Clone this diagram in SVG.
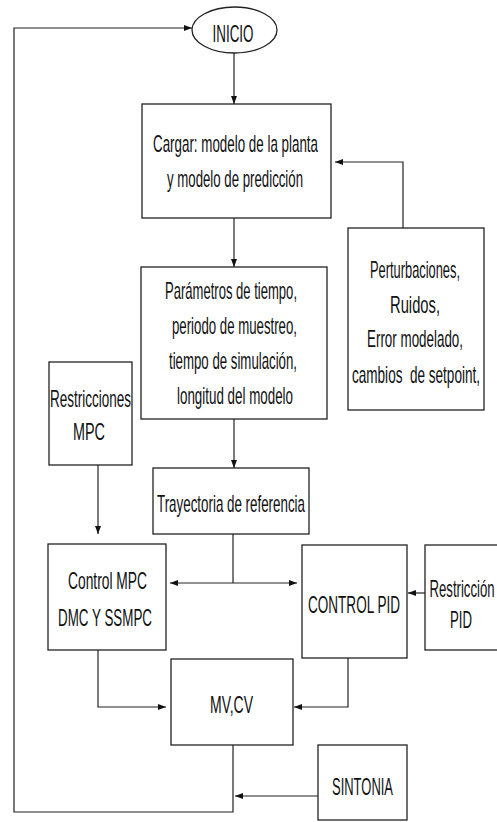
<svg xmlns="http://www.w3.org/2000/svg" width="497" height="822" viewBox="0 0 497 822">
<style>
.box{fill:#fff;stroke:#222;stroke-width:1.3}
.t{font-family:"Liberation Sans",Arial,sans-serif;font-size:23px;fill:#111;text-anchor:middle}
.c{fill:none;stroke:#222;stroke-width:1.2}
</style>
<defs>
<marker id="ah" viewBox="0 0 8 8" refX="8" refY="4" markerWidth="8" markerHeight="8" markerUnits="userSpaceOnUse" orient="auto-start-reverse">
<path d="M0,1 L8,4 L0,7 Z" fill="#111"/>
</marker>
</defs>
<rect width="497" height="822" fill="#fff"/>
<g id="connectors">
<line class="c" x1="234" y1="53" x2="234" y2="104" marker-end="url(#ah)"/>
<line class="c" x1="234" y1="218" x2="234" y2="267" marker-end="url(#ah)"/>
<line class="c" x1="234" y1="419" x2="234" y2="468" marker-end="url(#ah)"/>
<polyline class="c" points="403,228 403,162 335,162" marker-end="url(#ah)"/>
<line class="c" x1="98" y1="465" x2="98" y2="534" marker-end="url(#ah)"/>
<line class="c" x1="233" y1="534" x2="233" y2="583"/>
<line class="c" x1="170" y1="583" x2="297" y2="583" marker-start="url(#ah)" marker-end="url(#ah)"/>
<line class="c" x1="425" y1="593" x2="408" y2="593" marker-end="url(#ah)"/>
<polyline class="c" points="98,650 98,707 166,707" marker-end="url(#ah)"/>
<polyline class="c" points="348,658 348,707 294,707" marker-end="url(#ah)"/>
<line class="c" x1="318" y1="796" x2="235" y2="796" marker-end="url(#ah)"/>
<polyline class="c" points="233,745 233,812 14,812 14,28 192,28" marker-end="url(#ah)"/>
</g>
<g id="inicio">
<ellipse class="box" cx="234.5" cy="30" rx="42.5" ry="23"/>
<text class="t" transform="translate(233 42) scale(0.56 1)" textLength="73.2" lengthAdjust="spacingAndGlyphs">INICIO</text>
</g>
<g id="cargar">
<rect class="box" x="142" y="104" width="189" height="114"/>
<text class="t" transform="translate(235.5 152) scale(0.56 1)" textLength="294.6" lengthAdjust="spacingAndGlyphs">Cargar: modelo de la planta</text>
<text class="t" transform="translate(235 187) scale(0.56 1)" textLength="242.9" lengthAdjust="spacingAndGlyphs">y modelo de predicción</text>
</g>
<g id="parametros">
<rect class="box" x="141" y="267" width="186" height="152"/>
<text class="t" transform="translate(231 299) scale(0.56 1)" textLength="235.7" lengthAdjust="spacingAndGlyphs">Parámetros de tiempo,</text>
<text class="t" transform="translate(234.5 334) scale(0.56 1)" textLength="223.2" lengthAdjust="spacingAndGlyphs">periodo de muestreo,</text>
<text class="t" transform="translate(233 369) scale(0.56 1)" textLength="228.6" lengthAdjust="spacingAndGlyphs">tiempo de simulación,</text>
<text class="t" transform="translate(235 404) scale(0.56 1)" textLength="207.1" lengthAdjust="spacingAndGlyphs">longitud del modelo</text>
</g>
<g id="perturbaciones">
<rect class="box" x="348" y="228" width="136" height="182"/>
<text class="t" transform="translate(415 278) scale(0.56 1)" textLength="160.7" lengthAdjust="spacingAndGlyphs">Perturbaciones,</text>
<text class="t" transform="translate(415 313) scale(0.56 1)" textLength="89.3" lengthAdjust="spacingAndGlyphs">Ruidos,</text>
<text class="t" transform="translate(415 347) scale(0.56 1)" textLength="171.4" lengthAdjust="spacingAndGlyphs">Error modelado,</text>
<text class="t" transform="translate(416 383) scale(0.56 1)" textLength="228.6" lengthAdjust="spacingAndGlyphs" xml:space="preserve">cambios  de setpoint,</text>
</g>
<g id="restricciones-mpc">
<rect class="box" x="49" y="362" width="83" height="103"/>
<text class="t" transform="translate(90.5 407) scale(0.56 1)" textLength="144.6" lengthAdjust="spacingAndGlyphs">Restricciones</text>
<text class="t" transform="translate(89 440) scale(0.56 1)" textLength="57.1" lengthAdjust="spacingAndGlyphs">MPC</text>
</g>
<g id="trayectoria">
<rect class="box" x="153" y="468" width="156" height="66"/>
<text class="t" transform="translate(231 512) scale(0.56 1)" textLength="264.3" lengthAdjust="spacingAndGlyphs">Trayectoria de referencia</text>
</g>
<g id="control-mpc">
<rect class="box" x="48" y="544" width="118" height="106"/>
<text class="t" transform="translate(107.5 589) scale(0.56 1)" textLength="141.1" lengthAdjust="spacingAndGlyphs">Control MPC</text>
<text class="t" transform="translate(105 626) scale(0.56 1)" textLength="167.9" lengthAdjust="spacingAndGlyphs">DMC Y SSMPC</text>
</g>
<g id="control-pid">
<rect class="box" x="302" y="545" width="105" height="113"/>
<text class="t" transform="translate(354 613) scale(0.56 1)" textLength="164.3" lengthAdjust="spacingAndGlyphs">CONTROL PID</text>
</g>
<g id="restriccion-pid">
<rect class="box" x="425" y="545" width="80" height="105"/>
<text class="t" transform="translate(462 597) scale(0.56 1)" textLength="116.1" lengthAdjust="spacingAndGlyphs">Restricción</text>
<text class="t" transform="translate(461 628) scale(0.56 1)" textLength="39.3" lengthAdjust="spacingAndGlyphs">PID</text>
</g>
<g id="mv-cv">
<rect class="box" x="171" y="659" width="122" height="86"/>
<text class="t" transform="translate(231.5 713) scale(0.56 1)" textLength="76.8" lengthAdjust="spacingAndGlyphs">MV,CV</text>
</g>
<g id="sintonia">
<rect class="box" x="318" y="745" width="89" height="75"/>
<text class="t" transform="translate(362.5 795) scale(0.56 1)" textLength="108.9" lengthAdjust="spacingAndGlyphs">SINTONIA</text>
</g>
</svg>
